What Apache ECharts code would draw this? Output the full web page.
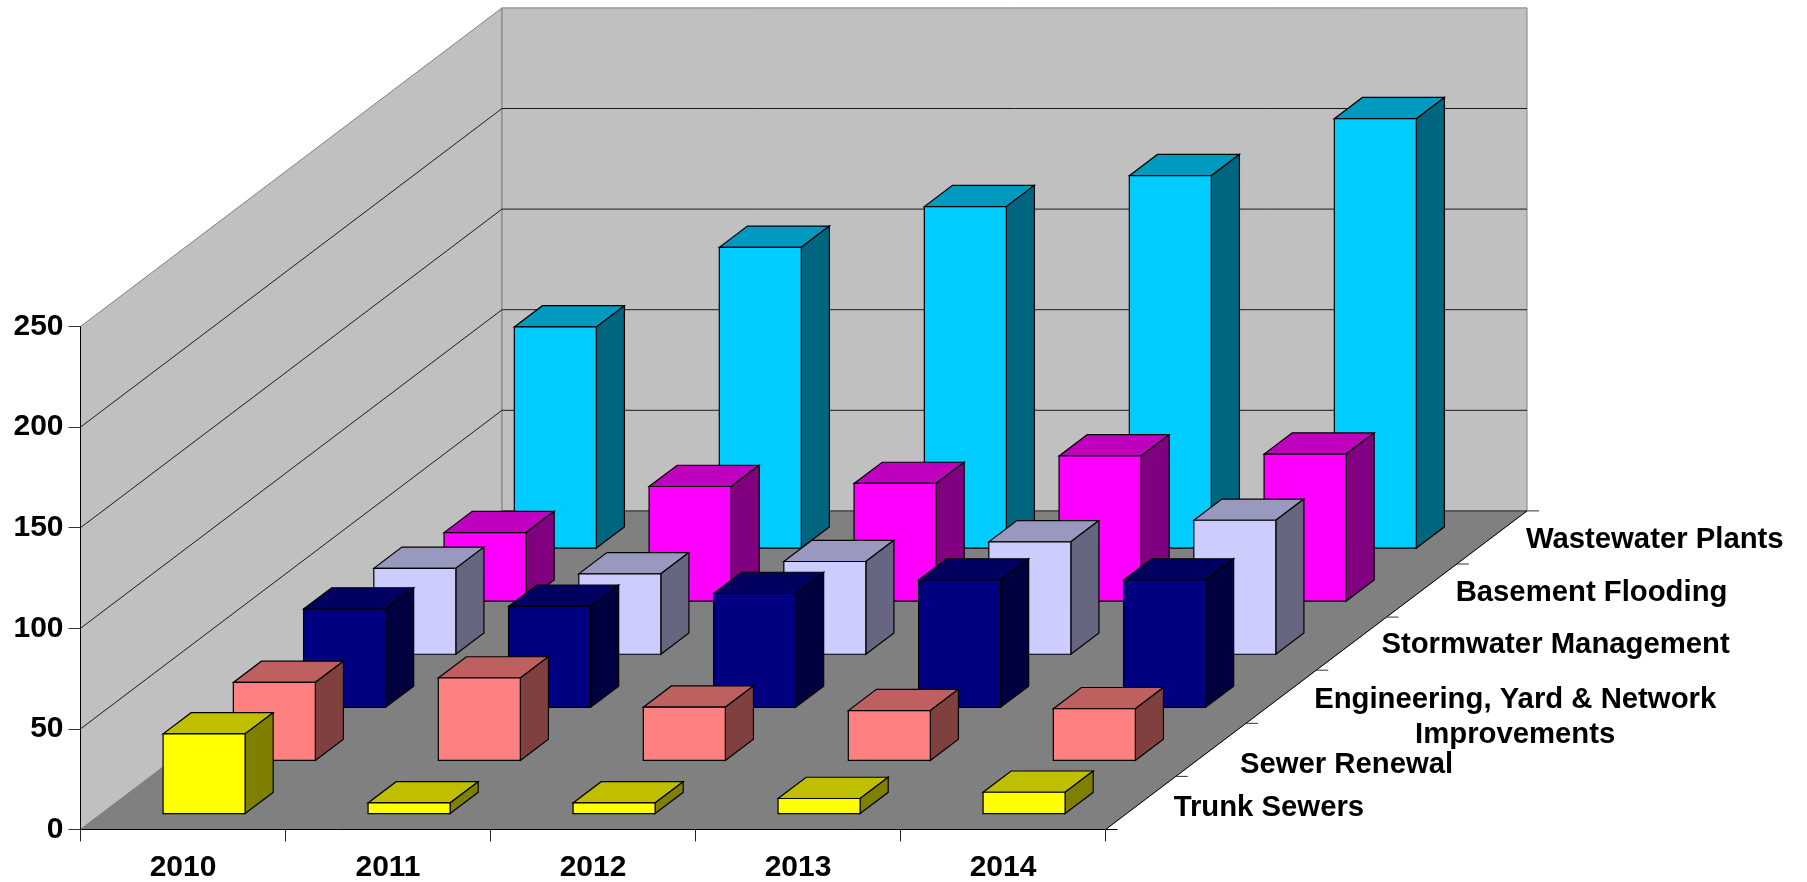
<!DOCTYPE html>
<html>
<head>
<meta charset="utf-8">
<style>
  html, body { margin: 0; padding: 0; background: #fff; }
  #main { width: 1807px; height: 882px; }
</style>
<script src="https://cdn.jsdelivr.net/npm/echarts@6/dist/echarts.min.js"></script>
</head>
<body>
<div id="main"></div>
<script>
// data
const years = ['2010', '2011', '2012', '2013', '2014'];
const valueTicks = [50, 100, 150, 200];
const trunkSewers = [39.6, 5.3, 5.3, 7.5, 10.6];
const sewerRenewal = [38.8, 41, 26.5, 24.8, 25.7];
const engineering = [48.9, 50.2, 56.6, 63.3, 63.3];
const stormwater = [42.7, 40, 46.1, 55.9, 66.6];
const basementFlooding = [34.1, 57, 58.5, 72.2, 73.1];
const wastewaterPlants = [109.9, 149.5, 169.7, 185.1, 213.4];
const depthLabels = ['Trunk Sewers', 'Sewer Renewal', 'Engineering, Yard & Network\nImprovements', 'Stormwater Management', 'Basement Flooding', 'Wastewater Plants'];

// front, top, side colours of each row
const rows = [
  { values: trunkSewers, colors: ['#FFFF00', '#BFBF00', '#808000'] },
  { values: sewerRenewal, colors: ['#FF8080', '#BF6060', '#804040'] },
  { values: engineering, colors: ['#000080', '#000060', '#000040'] },
  { values: stormwater, colors: ['#CCCCFF', '#9999BF', '#666680'] },
  { values: basementFlooding, colors: ['#FF00FF', '#BF00BF', '#800080'] },
  { values: wastewaterPlants, colors: ['#00CCFF', '#0099BF', '#006680'] }
];

// screen shift of one depth row
const DEPTH_X = 70.25;
const DEPTH_Y = 53.1;
const FONT = 'bold 29.3px "Liberation Sans"';
// the row names do not sit evenly along the floor edge
const labelNudgeX = [33, 29, 33, 30, 34, 34];
const labelNudgeY = [5, 15, 21, 1, 2, 2];

// depth shift on top of an axis point
const shift = (p, d) => [p[0] + d * DEPTH_X, p[1] - d * DEPTH_Y];

const poly = (points, fill, stroke, lineWidth) => ({
  type: 'polygon',
  shape: { points },
  style: { fill, stroke, lineWidth: lineWidth || 1 },
  silent: true
});
const line = (points, stroke, lineWidth) => ({
  type: 'polyline',
  shape: { points },
  style: { fill: 'none', stroke, lineWidth: lineWidth || 1 },
  silent: true
});

// walls, floor, gridlines
const renderRoom = (params, api) => {
  const bw = api.size([1, 0])[0];
  const n = years.length;
  const c0 = api.coord([0, 0]);
  const c1 = api.coord([0, 250]);
  const a = [c0[0] - bw / 2, c0[1]];
  const b = [a[0] + bw * n, a[1]];
  const t = [a[0], c1[1]];
  const depth = depthLabels.length;
  const backA = shift(a, depth);
  const backB = shift(b, depth);
  const backT = shift(t, depth);
  const backTR = [backB[0], backT[1]];
  const children = [
    poly([a, t, backT, backA], '#C0C0C0', '#808080'),
    poly([backA, backT, backTR, backB], '#C0C0C0', '#808080'),
    poly([a, b, backB, backA], '#808080', '#808080')
  ];
  valueTicks.forEach((v) => {
    const y = api.coord([0, v])[1];
    const front = [a[0], y];
    const back = shift(front, depth);
    children.push(line([front, back, [backB[0], back[1]]], '#1a1a1a'));
  });
  children.push(line([backA, backB], '#4d4d4d', 1.5));
  children.push(line([b, backB], '#000'));
  return { type: 'group', children };
};

// one bar of a row
const renderBar = (row) => (params, api) => {
  const bw = api.size([1, 0])[0];
  const cat = api.value(0);
  const base = api.coord([cat, 0]);
  const top = api.coord([cat, api.value(1)]);
  const half = bw * 0.2;
  const d0 = row + 0.3;
  const d1 = row + 0.7;
  const bl = shift([base[0] - half, base[1]], d0);
  const br = shift([base[0] + half, base[1]], d0);
  const tl = shift([top[0] - half, top[1]], d0);
  const tr = shift([top[0] + half, top[1]], d0);
  const tlb = shift([top[0] - half, top[1]], d1);
  const trb = shift([top[0] + half, top[1]], d1);
  const brb = shift([base[0] + half, base[1]], d1);
  const colors = rows[row].colors;
  return {
    type: 'group',
    children: [
      poly([tl, tr, trb, tlb], colors[1], '#000', 1.2),
      poly([br, tr, trb, brb], colors[2], '#000', 1.2),
      poly([bl, br, tr, tl], colors[0], '#000', 1.2)
    ]
  };
};

// row names and ticks along the right edge of the floor
const measure = document.createElement('canvas').getContext('2d');
measure.font = FONT;
const renderDepthAxis = (params, api) => {
  const bw = api.size([1, 0])[0];
  const c0 = api.coord([0, 0]);
  const b = [c0[0] - bw / 2 + bw * years.length, c0[1]];
  const children = [];
  for (let i = 0; i <= depthLabels.length; i++) {
    const p = shift(b, i);
    children.push(line([p, [p[0] + 12, p[1]]], i === 0 ? '#000' : '#333'));
  }
  depthLabels.forEach((label, i) => {
    const p = shift(b, i + 0.5);
    const width = Math.max(...label.split('\n').map((s) => measure.measureText(s).width));
    children.push({
      type: 'text',
      silent: true,
      style: {
        x: p[0] + labelNudgeX[i] + width / 2,
        y: p[1] + labelNudgeY[i],
        text: label,
        font: FONT,
        lineHeight: 35,
        fill: '#000',
        align: 'center',
        verticalAlign: 'middle'
      }
    });
  });
  return { type: 'group', children };
};

const series = [{
  type: 'custom',
  renderItem: renderRoom,
  data: [[0, 0]],
  z: 1
}];
// back rows first so the front rows cover them
for (let r = rows.length - 1; r >= 0; r--) {
  series.push({
    type: 'custom',
    renderItem: renderBar(r),
    data: rows[r].values.map((v, i) => [i, v]),
    z: 2
  });
}
series.push({
  type: 'custom',
  renderItem: renderDepthAxis,
  data: [[0, 0]],
  z: 3
});

const myChart = echarts.init(document.getElementById('main'));
myChart.setOption({
  animation: false,
  backgroundColor: '#fff',
  // keep the grid where it is set, labels come close to the page edge
  grid: { left: 80.5, top: 326.5, width: 1025, height: 503, outerBoundsMode: 'none' },
  xAxis: {
    type: 'category',
    data: years,
    z: 10,
    axisLine: { lineStyle: { color: '#000', width: 1 } },
    axisTick: { show: true, length: 12, lineStyle: { color: '#222' } },
    axisLabel: { color: '#000', fontFamily: 'Liberation Sans', fontWeight: 'bold', fontSize: 30, margin: 23 },
    splitLine: { show: false }
  },
  yAxis: {
    type: 'value',
    min: 0,
    max: 250,
    interval: 50,
    z: 10,
    axisLine: { show: true, lineStyle: { color: '#000', width: 1 } },
    axisTick: { show: true, length: 12, lineStyle: { color: '#333' } },
    axisLabel: { color: '#000', fontFamily: 'Liberation Sans', fontWeight: 'bold', fontSize: 30, margin: 17 },
    splitLine: { show: false }
  },
  series
});
</script>
</body>
</html>
